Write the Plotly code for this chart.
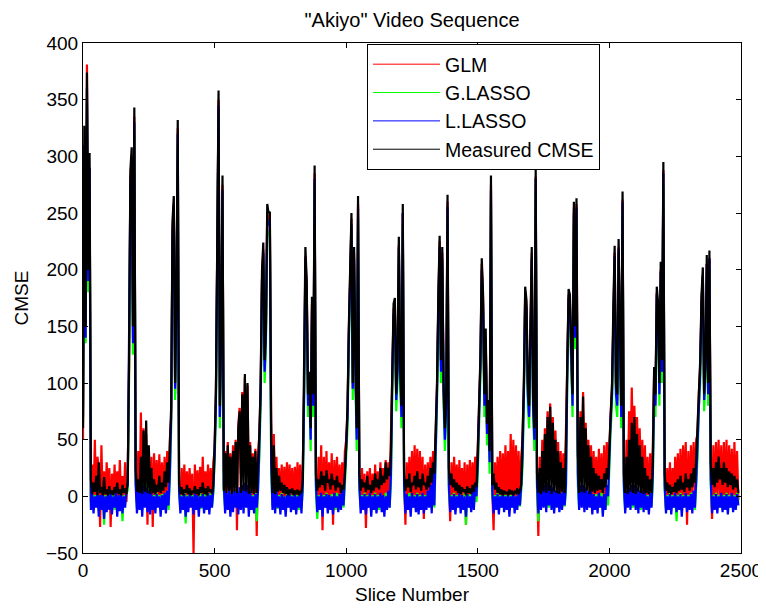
import plotly.graph_objects as go

# Slice numbers (one sample every 5 slices)
slice_number = list(range(0, 2495, 5))

measured_cmse = [
    60, 327, 150, 374, 200, 303, 15, 2, 12, 4, 18, 1, 30, 3, 8, 1, 17, 2, 6, 1,
    9, 2, 5, 1, 8, 3, 12, 2, 6, 1, 10, 3, 7, 2, 14, 120, 288, 308, 150, 343,
    25, 4, 15, 3, 35, 2, 58, 4, 67, 3, 45, 2, 25, 3, 15, 2, 10, 4, 18, 3,
    12, 5, 22, 8, 30, 12, 45, 79, 243, 265, 100, 180, 332, 12, 2, 8, 1, 6, 3, 10,
    2, 7, 1, 5, 3, 9, 2, 6, 1, 8, 3, 12, 2, 7, 1, 9, 4, 6, 2, 10,
    45, 94, 223, 358, 80, 150, 283, 5, 38, 3, 45, 5, 35, 2, 40, 4, 48, 3, 60, 75,
    3, 90, 5, 108, 4, 100, 2, 45, 3, 35, 2, 40, 3, 30, 55, 100, 199, 224, 120, 150,
    258, 250, 251, 50, 3, 45, 2, 25, 4, 18, 5, 12, 3, 10, 2, 8, 1, 6, 3, 7,
    1, 5, 2, 6, 1, 4, 3, 15, 100, 220, 190, 90, 110, 60, 176, 90, 292, 20, 5, 15,
    8, 22, 10, 18, 5, 23, 12, 15, 6, 20, 10, 14, 5, 18, 8, 12, 3, 10, 6, 20,
    45, 80, 150, 192, 250, 100, 220, 120, 60, 265, 20, 5, 15, 8, 12, 4, 18, 6, 10, 3,
    14, 5, 20, 8, 15, 6, 25, 10, 18, 12, 30, 15, 25, 18, 40, 110, 170, 175, 90, 120,
    229, 120, 80, 258, 20, 5, 15, 8, 20, 4, 12, 10, 18, 6, 22, 8, 15, 5, 20, 10,
    12, 6, 18, 8, 25, 12, 30, 20, 55, 100, 177, 230, 120, 220, 100, 60, 90, 266, 25, 10,
    20, 8, 15, 5, 12, 3, 10, 2, 8, 4, 6, 1, 9, 3, 7, 2, 10, 4, 12, 8,
    40, 80, 124, 210, 179, 90, 148, 64, 85, 40, 283, 10, 20, 6, 12, 3, 8, 2, 6, 1,
    5, 2, 4, 1, 6, 2, 5, 1, 4, 3, 7, 2, 5, 10, 45, 100, 185, 173, 100, 80,
    150, 220, 90, 60, 289, 20, 3, 25, 2, 40, 4, 55, 3, 70, 5, 79, 2, 65, 4, 50,
    3, 40, 2, 30, 4, 25, 3, 45, 120, 183, 178, 120, 90, 260, 150, 263, 40, 3, 70, 4,
    88, 3, 60, 5, 45, 2, 35, 4, 25, 3, 20, 5, 18, 6, 15, 3, 20, 8, 25, 15,
    50, 80, 100, 168, 221, 100, 90, 227, 150, 80, 269, 20, 3, 35, 2, 50, 4, 65, 3, 70,
    2, 55, 4, 45, 3, 35, 2, 25, 3, 18, 2, 15, 3, 30, 114, 90, 185, 170, 100, 207,
    120, 295, 20, 5, 12, 3, 10, 2, 8, 4, 12, 3, 15, 5, 18, 6, 12, 4, 20, 8,
    15, 5, 20, 8, 25, 12, 35, 60, 96, 120, 178, 202, 90, 120, 213, 100, 217, 30, 10, 25,
    8, 30, 12, 35, 15, 25, 10, 30, 12, 25, 8, 22, 10, 20, 6, 18, 8, 15, 3,
]

glm = [
    50, 300, 140, 381, 190, 290, -5, 28, -8, 50, -4, 35, 25, -27, 45, -5, 22, -6, 30, -4,
    25, -27, 20, -5, 28, -8, 22, -4, 32, -6, 18, -3, 30, -5, 20, 110, 280, 300, 140, 335,
    20, -5, 40, -6, 74, -8, 60, -4, 55, -25, 40, -6, 35, -27, 38, -5, 32, -8, 37, -4,
    30, -6, 35, -5, 40, 5, 50, 70, 235, 258, 90, 170, 325, 8, -6, 25, -5, 28, -8, 22,
    -4, 25, -6, 20, -50, 28, -5, 23, -8, 26, -4, 35, -6, 22, -5, 28, -8, 25, -4, 30,
    40, 90, 215, 350, 70, 145, 275, 20, 40, -6, 48, 5, 38, -10, 45, 10, 50, -30, 62, 78,
    20, 92, 40, 105, 30, 98, 10, 48, -5, 38, -6, 42, -35, 35, 55, 95, 190, 218, 115, 145,
    250, 245, 245, 67, 10, 55, -6, 35, -8, 25, -5, 28, -6, 26, -5, 30, -4, 28, -6, 25,
    -8, 26, -5, 30, -4, 28, -6, 25, 95, 212, 185, 85, 105, 55, 170, 85, 285, 15, -6, 35,
    -5, 45, -30, 35, -6, 40, -8, 30, -4, 38, -25, 32, -5, 35, -6, 28, -8, 30, -4, 40,
    50, 75, 145, 185, 245, 95, 215, 115, 55, 258, 15, -6, 25, -5, 20, -28, 22, -4, 25, -8,
    20, -5, 28, -6, 22, -4, 30, -8, 25, -5, 32, -6, 30, 5, 45, 105, 165, 170, 85, 115,
    222, 115, 75, 250, 15, -25, 30, -5, 35, -6, 40, -4, 45, -8, 42, -5, 40, -6, 35, -20,
    28, -5, 30, -6, 35, 0, 40, 15, 55, 95, 170, 225, 115, 215, 95, 55, 85, 260, 20, -22,
    30, -6, 35, -5, 28, -8, 32, -4, 25, -6, 30, -25, 28, -5, 32, -6, 30, -4, 35, 10,
    45, 75, 118, 205, 175, 85, 140, 60, 80, 35, 275, 5, -30, 30, -5, 35, -8, 40, -6, 38,
    -5, 45, -4, 40, -8, 55, -6, 50, -5, 45, -3, 40, -8, 35, 50, 95, 180, 168, 95, 75,
    145, 215, 85, 55, 282, 15, -35, 35, 5, 50, 15, 60, 25, 75, 40, 82, 30, 70, 20, 58,
    10, 48, 0, 40, -5, 38, 5, 50, 115, 178, 172, 115, 85, 255, 145, 258, 35, 20, 75, 40,
    92, 25, 65, 15, 50, 5, 45, -5, 40, 0, 35, -8, 42, -3, 38, -10, 45, 0, 48, 15,
    55, 75, 95, 162, 215, 95, 85, 220, 145, 75, 262, 15, -8, 50, 15, 75, 30, 96, 40, 80,
    30, 70, 20, 60, 10, 50, 5, 45, -5, 35, -8, 38, 5, 45, 110, 85, 180, 165, 95, 200,
    115, 288, 15, -10, 25, -5, 30, -8, 25, -6, 35, -4, 38, -5, 42, -8, 45, -3, 48, -25,
    40, -5, 45, 0, 48, 5, 50, 55, 92, 115, 172, 195, 85, 115, 205, 95, 210, 25, -20, 45,
    -5, 48, 0, 50, -3, 45, -10, 48, -5, 50, -6, 45, 0, 42, -8, 48, -5, 40, -3,
]

g_lasso = [
    65, 300, 135, 350, 180, 280, -8, 3, -10, 1, -6, 2, -12, 0, -8, 3, -25, 1, -8, 2,
    -10, 3, -7, 1, -12, 2, -9, 0, -6, 3, -22, 1, -6, 3, 5, 105, 265, 285, 125, 320,
    15, -10, 3, -8, 10, -12, 20, -6, 15, -9, 8, -10, 2, -12, 1, -8, 3, -7, 1, -11,
    2, -8, 3, -10, 4, -12, 15, 60, 220, 245, 85, 160, 310, 3, -10, 1, -8, 3, -24, 1,
    -10, 3, -8, 1, -8, 2, -12, 0, -9, 3, -11, 1, -8, 2, -10, 0, -7, 3, -9, 3,
    30, 75, 200, 335, 60, 130, 260, 5, -10, 3, -8, 5, -12, 2, -10, 5, -9, 5, -8, 5,
    -10, 5, -10, 5, -9, 5, -8, 3, -12, 1, -10, 3, -22, 2, 35, 80, 180, 205, 100, 130,
    235, 230, 230, 20, -9, 5, -8, 3, -11, 1, -10, 3, -12, 0, -8, 2, -10, 3, -10, 1,
    -11, 3, -8, 1, -12, 2, -10, 5, 80, 200, 170, 70, 90, 40, 155, 70, 270, 5, -20, 1,
    -8, 2, -12, 1, -10, 3, -10, 0, -8, 2, -9, 1, -12, 3, -11, 1, -8, 3, -10, 10,
    35, 60, 130, 175, 230, 85, 200, 100, 40, 245, 5, -10, 1, -8, 3, -12, 1, -10, 2, -10,
    1, -8, 3, -12, 1, -12, 2, -10, 0, -8, 3, -9, 2, -10, 10, 90, 150, 155, 75, 100,
    210, 100, 60, 240, 5, -12, 1, -8, 3, -10, 2, -10, 1, -12, 3, -8, 1, -10, 2, -10,
    1, -10, 3, -8, 5, -12, 10, -10, 30, 80, 160, 210, 100, 200, 80, 40, 70, 245, 5, -10,
    1, -8, 3, -12, 1, -10, 2, -10, 0, -8, 3, -25, 1, -10, 2, -10, 3, -8, 5, -5,
    20, 60, 105, 190, 160, 70, 130, 45, 65, 20, 260, 2, -10, 1, -8, 3, -12, 1, -10, 2,
    -10, 1, -8, 3, -12, 1, -10, 2, -10, 0, -8, 3, -9, 5, 25, 80, 165, 155, 80, 60,
    130, 200, 70, 40, 270, 5, -22, 3, -8, 5, -9, 5, -10, 5, -10, 5, -8, 5, -12, 3,
    -8, 3, -10, 3, -10, 5, -9, 5, 100, 165, 160, 100, 70, 240, 130, 245, 10, -10, 5, -8,
    5, -10, 3, -8, 3, -9, 3, -10, 1, -12, 2, -8, 1, -10, 3, -10, 1, -12, 5, -8,
    30, 60, 80, 150, 200, 80, 70, 208, 130, 60, 250, 5, -12, 3, -8, 5, -10, 5, -10, 5,
    -10, 5, -8, 3, -12, 5, -10, 3, -10, 1, -8, 2, -9, 10, 95, 70, 170, 152, 80, 190,
    100, 275, 5, -12, 1, -8, 3, -10, 1, -10, 2, -22, 1, -8, 3, -10, 1, -10, 2, -12,
    1, -8, 3, -10, 3, -12, 10, 35, 80, 100, 160, 185, 75, 105, 195, 80, 200, 10, -12, 1,
    -8, 3, -10, 1, -10, 2, -12, 1, -8, 3, -10, 1, -10, 2, -12, 1, -8, 3, -5,
]

l_lasso = [
    70, 310, 140, 360, 190, 290, -12, 2, -15, 0, -10, 3, -18, 1, -12, 2, -20, 0, -14, 3,
    -12, 2, -16, 0, -10, 3, -18, 1, -13, 2, -15, 0, -10, 5, 10, 115, 275, 295, 135, 330,
    10, -15, 5, -12, 8, -18, 10, -10, 8, -14, 5, -16, 3, -12, 0, -15, 2, -10, 0, -18,
    1, -12, 3, -15, 5, -8, 20, 70, 230, 255, 95, 170, 320, 5, -15, 0, -12, 2, -18, 0,
    -14, 2, -10, 0, -16, 3, -12, 1, -18, 0, -10, 2, -15, 0, -12, 3, -16, 1, -10, 5,
    35, 85, 210, 345, 70, 140, 270, 10, -15, 3, -12, 5, -18, 3, -14, 5, -10, 5, -16, 8,
    -12, 10, -15, 12, -10, 10, -18, 5, -12, 0, -15, 2, -10, 5, 45, 90, 190, 215, 110, 140,
    245, 240, 240, 30, -12, 10, -15, 5, -10, 0, -16, 2, -12, 0, -18, 1, -10, 3, -14, 0,
    -12, 2, -16, 0, -10, 3, -15, 10, 90, 210, 180, 80, 100, 50, 165, 80, 280, 10, -14, 0,
    -12, 3, -18, 0, -10, 2, -15, 1, -12, 0, -16, 3, -10, 0, -14, 2, -12, 5, -8, 20,
    45, 70, 140, 182, 240, 95, 210, 110, 50, 255, 10, -15, 0, -12, 2, -16, 0, -10, 3, -18,
    0, -12, 2, -15, 0, -10, 3, -14, 1, -18, 0, -12, 5, -10, 20, 100, 160, 165, 85, 110,
    220, 110, 70, 250, 10, -15, 2, -12, 0, -18, 3, -10, 0, -14, 2, -16, 0, -12, 3, -15,
    0, -12, 5, -10, 10, -15, 20, -8, 40, 90, 168, 220, 110, 210, 90, 50, 80, 255, 10, -14,
    0, -12, 2, -16, 0, -10, 3, -15, 1, -12, 0, -18, 2, -10, 0, -14, 5, -12, 10, 0,
    30, 70, 115, 200, 170, 80, 140, 55, 75, 30, 270, 5, -15, 0, -12, 2, -16, 0, -10, 3,
    -14, 0, -12, 2, -18, 0, -10, 3, -15, 0, -12, 5, -8, 10, 35, 90, 175, 165, 90, 70,
    140, 210, 80, 50, 280, 10, -15, 5, -12, 8, -10, 10, -14, 12, -8, 10, -12, 8, -15, 5,
    -10, 5, -14, 3, -12, 5, -8, 10, 110, 175, 170, 110, 80, 250, 140, 255, 20, -12, 10, -10,
    10, -14, 8, -12, 5, -10, 5, -16, 2, -12, 0, -15, 3, -10, 0, -18, 2, -12, 10, 0,
    40, 70, 90, 160, 212, 90, 80, 218, 140, 70, 260, 10, -15, 5, -10, 8, -12, 10, -8, 10,
    -12, 8, -15, 5, -10, 5, -14, 5, -12, 0, -16, 3, -10, 20, 105, 80, 178, 162, 90, 198,
    110, 285, 10, -15, 0, -12, 2, -16, 0, -10, 3, -14, 0, -12, 2, -18, 0, -10, 3, -14,
    0, -12, 2, -15, 5, -10, 15, 45, 88, 110, 170, 195, 85, 115, 205, 90, 210, 15, -15, 0,
    -12, 2, -15, 0, -10, 3, -14, 0, -12, 2, -16, 0, -10, 3, -14, 0, -12, 2, -8,
]

series_names = ["GLM", "G.LASSO", "L.LASSO", "Measured CMSE"]
series_values = [glm, g_lasso, l_lasso, measured_cmse]
series_colors = ["#ff0000", "#00ff00", "#0000ff", "#000000"]

x_ticks = [0, 500, 1000, 1500, 2000, 2500]
y_ticks = list(range(-50, 401, 50))

FONT = "Liberation Sans, Arial, Helvetica, sans-serif"
FS = 19

# The page body adds an 8px offset, so the figure is sized to fit the window.
W, H = 758, 601

fig = go.Figure()
for name, vals, col in zip(series_names, series_values, series_colors):
    fig.add_trace(go.Scatter(
        x=slice_number[:len(vals)], y=vals, mode="lines", name=name,
        line=dict(color=col, width=2.2), showlegend=False,
    ))
# Thin legend entries (like the original's thin legend lines)
for name, col in zip(series_names, series_colors):
    fig.add_trace(go.Scatter(
        x=[None], y=[None], mode="lines", name=name,
        line=dict(color=col, width=1), showlegend=True,
    ))

axis_common = dict(
    showline=True, linecolor="black", linewidth=1, mirror="ticks",
    ticks="inside", ticklen=5, tickcolor="black", tickwidth=1,
    showgrid=False, zeroline=False, automargin=False,
    tickfont=dict(family=FONT, size=FS, color="black"),
)

fig.update_layout(
    width=W, height=H,
    margin=dict(l=75, r=25, t=35, b=56),
    paper_bgcolor="white", plot_bgcolor="white",
    font=dict(family=FONT, size=FS, color="black"),
    title=dict(text='"Akiyo" Video Sequence', x=(75 + 733) / 2 / W, xanchor="center",
               y=1 - 12 / H, yanchor="middle", font=dict(family=FONT, size=20, color="black")),
    xaxis=dict(range=[0, 2500], tickvals=x_ticks, title=dict(text="Slice Number", standoff=7,
               font=dict(family=FONT, size=FS)), **axis_common),
    yaxis=dict(range=[-50, 400], tickvals=y_ticks, title=dict(text="CMSE", standoff=12,
               font=dict(family=FONT, size=FS)), **axis_common),
    legend=dict(x=(367 - 83) / 658, y=(553 - 44) / 510, xanchor="left", yanchor="top",
                bgcolor="white", bordercolor="black", borderwidth=1,
                font=dict(family=FONT, size=19.5, color="black"), itemwidth=67,
                tracegroupgap=0),
    showlegend=True,
)

fig.write_html("out.html")
